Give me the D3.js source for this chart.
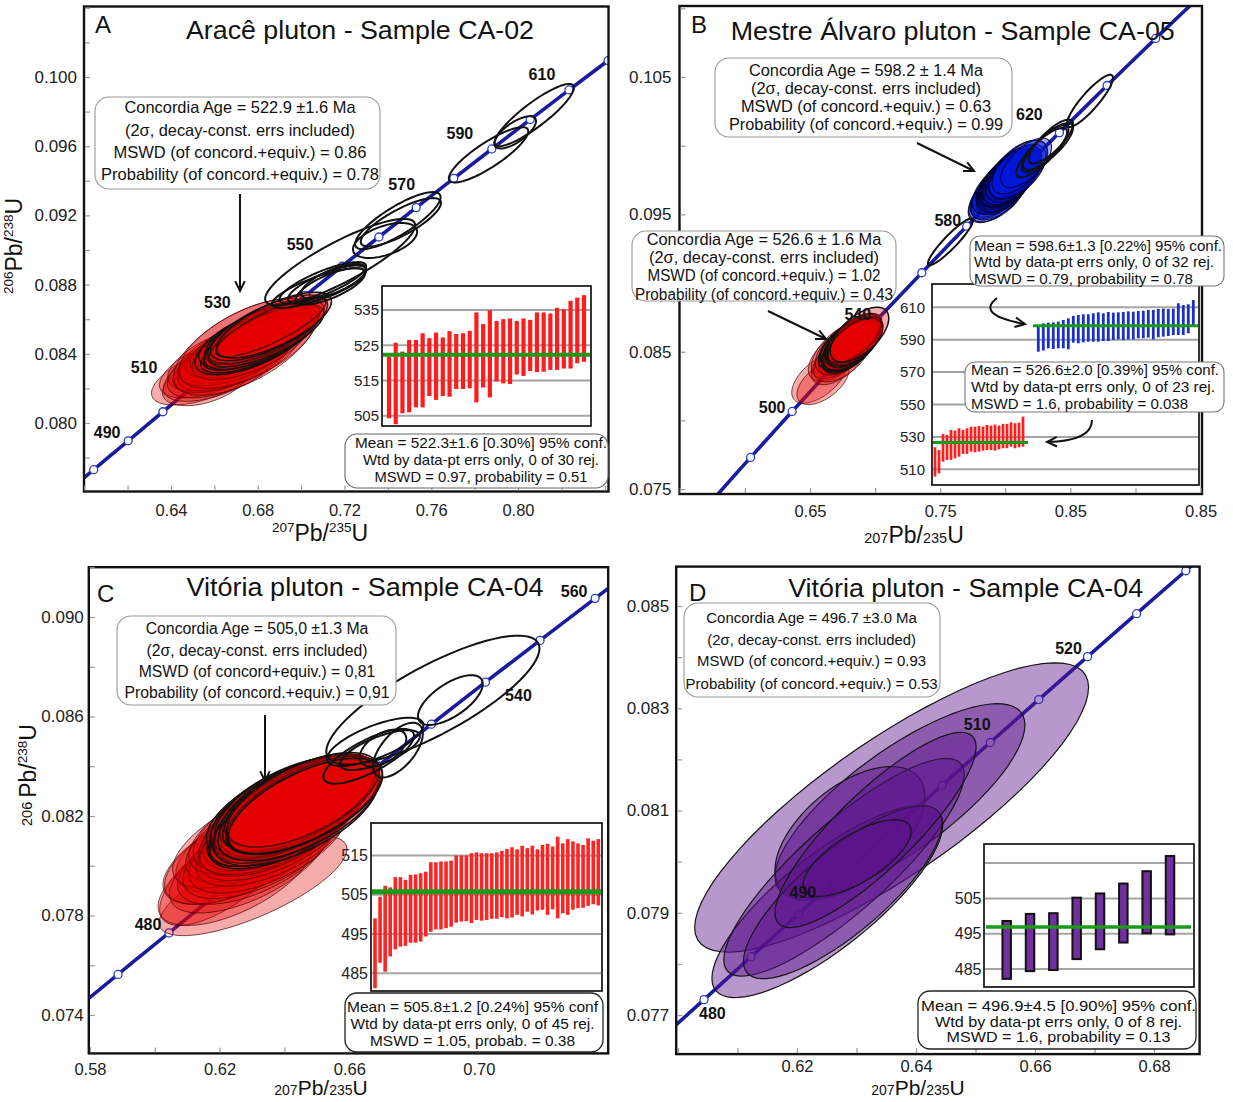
<!DOCTYPE html>
<html><head><meta charset="utf-8">
<script src="https://cdn.jsdelivr.net/npm/d3@7"></script>
<style>body{margin:0;background:#fff}svg{display:block;font-family:"Liberation Sans",Arial,sans-serif}</style>
</head><body><svg id="c" width="1233" height="1102"></svg>
<script>
// ---------------- DATA ----------------
// Concordia curve table (age Ma, 207Pb/235U, 206Pb/238U)
const concAge = [440,450,460,470,475,480,485,490,495,500,505,510,515,520,525,530,540,550,560,570,580,590,600,610,620,630,640,650,660,670,680,690];
const concX = [0.54239,0.55766,0.57307,0.58864,0.59648,0.60437,0.61228,0.62024,0.62824,0.63628,0.64436,0.65247,0.66063,0.66883,0.67707,0.68535,0.70202,0.71887,0.73588,0.75306,0.77041,0.78794,0.80563,0.82350,0.84155,0.85977,0.87818,0.89677,0.91554,0.93450,0.95365,0.97298];
const concY = [0.07064,0.07230,0.07397,0.07563,0.07647,0.07730,0.07814,0.07897,0.07981,0.08065,0.08149,0.08233,0.08317,0.08401,0.08485,0.08569,0.08738,0.08906,0.09075,0.09245,0.09414,0.09584,0.09754,0.09925,0.10095,0.10266,0.10438,0.10609,0.10781,0.10953,0.11125,0.11297];

// Ellipses: [207/235, err, 206/238, err, rho]
const aRed = [
[0.6580,0.0270,0.08284,0.00180,0.62],[0.6560,0.0200,0.08240,0.00140,0.45],[0.6612,0.0265,0.08330,0.00185,0.60],
[0.6640,0.0275,0.08320,0.00195,0.62],[0.6655,0.0270,0.08375,0.00190,0.58],[0.6668,0.0285,0.08350,0.00205,0.60],
[0.6690,0.0260,0.08400,0.00175,0.66],[0.6684,0.0275,0.08365,0.00190,0.62],[0.6700,0.0265,0.08420,0.00180,0.64],
[0.6712,0.0280,0.08380,0.00195,0.62],[0.6720,0.0255,0.08440,0.00170,0.68],[0.6705,0.0270,0.08395,0.00180,0.60],
[0.6735,0.0262,0.08440,0.00178,0.66],[0.6742,0.0330,0.08440,0.00280,0.62],[0.6750,0.0262,0.08460,0.00185,0.64],
[0.6758,0.0320,0.08460,0.00260,0.60],[0.6772,0.0262,0.08480,0.00180,0.66],[0.6765,0.0268,0.08440,0.00188,0.62],
[0.6780,0.0270,0.08470,0.00190,0.64],[0.6795,0.0258,0.08460,0.00170,0.70],[0.6790,0.0262,0.08500,0.00178,0.66],
[0.6805,0.0255,0.08470,0.00165,0.72],[0.6820,0.0265,0.08520,0.00180,0.68],[0.6815,0.0262,0.08490,0.00180,0.66],
[0.6828,0.0260,0.08515,0.00175,0.70],[0.6838,0.0268,0.08530,0.00185,0.68],[0.6840,0.0265,0.08505,0.00180,0.72],
[0.6852,0.0270,0.08550,0.00190,0.70],[0.6860,0.0254,0.08555,0.00173,0.82],[0.6875,0.0265,0.08566,0.00190,0.72]];
const aBlack = [
[0.7100,0.0200,0.0881,0.00120,0.80],[0.7120,0.0180,0.0880,0.00110,0.75],[0.7135,0.0160,0.0879,0.00105,0.72],
[0.7150,0.0150,0.0882,0.00100,0.70],[0.7080,0.0215,0.0878,0.00115,0.80],[0.7180,0.0346,0.0893,0.00250,0.85],
[0.7387,0.0148,0.09055,0.00101,0.50],[0.7446,0.0197,0.0917,0.00165,0.82],[0.7460,0.0185,0.0916,0.00140,0.80],
[0.7864,0.0183,0.0955,0.00160,0.85],[0.7987,0.0096,0.0968,0.00093,0.70],[0.8075,0.0183,0.0978,0.00180,0.88]];

const bRed = [
[0.6575,0.0215,0.08310,0.00185,0.58],[0.6600,0.0200,0.08280,0.00165,0.55],[0.6712,0.0225,0.08480,0.00195,0.58],
[0.6720,0.0210,0.08440,0.00180,0.56],[0.6740,0.0230,0.08510,0.00205,0.58],[0.6748,0.0220,0.08470,0.00190,0.56],
[0.6765,0.0225,0.08530,0.00195,0.58],[0.6772,0.0205,0.08500,0.00170,0.57],[0.6781,0.0215,0.08545,0.00180,0.58],
[0.6798,0.0210,0.08525,0.00180,0.56],[0.6795,0.0215,0.08560,0.00180,0.58],[0.6805,0.0215,0.08535,0.00180,0.56],
[0.6808,0.0205,0.08570,0.00170,0.62],[0.6818,0.0210,0.08545,0.00180,0.58],[0.6815,0.0208,0.08580,0.00175,0.60],
[0.6816,0.0220,0.08550,0.00185,0.56],[0.6820,0.0205,0.08585,0.00170,0.62],[0.6832,0.0208,0.08560,0.00175,0.58],
[0.6835,0.0208,0.08595,0.00175,0.60],[0.6850,0.0210,0.08580,0.00175,0.58],[0.6838,0.0212,0.08600,0.00178,0.62],
[0.6845,0.0210,0.08570,0.00176,0.58],[0.6880,0.0225,0.08624,0.00200,0.60]];
const bBlue = [
[0.7925,0.0210,0.09625,0.00185,0.58],[0.7935,0.0205,0.09650,0.00180,0.56],[0.7950,0.0210,0.09670,0.00190,0.58],
[0.7940,0.0220,0.09640,0.00195,0.55],[0.7960,0.0210,0.09690,0.00185,0.58],[0.7955,0.0220,0.09660,0.00200,0.56],
[0.7970,0.0225,0.09700,0.00200,0.58],[0.7985,0.0210,0.09690,0.00190,0.55],[0.7990,0.0215,0.09730,0.00195,0.58],
[0.7995,0.0212,0.09705,0.00190,0.56],[0.8000,0.0208,0.09740,0.00185,0.60],[0.8005,0.0215,0.09715,0.00195,0.55],
[0.8010,0.0218,0.09750,0.00198,0.58],[0.8008,0.0210,0.09725,0.00190,0.56],[0.8015,0.0216,0.09760,0.00196,0.60],
[0.8018,0.0208,0.09735,0.00188,0.55],[0.8022,0.0206,0.09770,0.00186,0.58],[0.8020,0.0212,0.09745,0.00192,0.56],
[0.8030,0.0212,0.09775,0.00192,0.60],[0.8028,0.0210,0.09750,0.00190,0.55],[0.8040,0.0206,0.09785,0.00186,0.58],
[0.8042,0.0208,0.09760,0.00188,0.56],[0.8050,0.0210,0.09795,0.00190,0.60],[0.8045,0.0220,0.09770,0.00200,0.55],
[0.8060,0.0214,0.09805,0.00194,0.58],[0.8065,0.0212,0.09780,0.00192,0.56],[0.8070,0.0206,0.09815,0.00186,0.60],
[0.8078,0.0202,0.09795,0.00182,0.58],[0.8100,0.0225,0.09830,0.00210,0.58],[0.8095,0.0218,0.09810,0.00200,0.56],
[0.8110,0.0212,0.09845,0.00195,0.60],[0.8160,0.0195,0.09875,0.00180,0.64]];
const bBlack = [
[0.7579,0.0173,0.0930,0.0017,0.92],[0.8328,0.0192,0.09994,0.0017,0.80],[0.8350,0.0170,0.1003,0.0016,0.80],
[0.8305,0.0180,0.0998,0.0017,0.82],[0.8280,0.0195,0.0995,0.0018,0.82],[0.8650,0.0177,0.10326,0.0019,0.88]];

const cRed = [
[0.6303,0.0290,0.07919,0.00200,0.74],[0.6230,0.0215,0.07990,0.00230,0.72],[0.6250,0.0240,0.07960,0.00200,0.62],
[0.6265,0.0240,0.08040,0.00195,0.60],[0.6290,0.0245,0.08010,0.00200,0.62],[0.6300,0.0235,0.08085,0.00190,0.60],
[0.6280,0.0250,0.08050,0.00205,0.62],[0.6310,0.0240,0.08040,0.00195,0.60],[0.6300,0.0245,0.08110,0.00200,0.62],
[0.6325,0.0238,0.08060,0.00192,0.60],[0.6335,0.0240,0.08130,0.00195,0.62],[0.6350,0.0245,0.08090,0.00200,0.60],
[0.6345,0.0240,0.08160,0.00195,0.62],[0.6365,0.0238,0.08110,0.00192,0.60],[0.6360,0.0242,0.08175,0.00198,0.62],
[0.6372,0.0236,0.08130,0.00190,0.60],[0.6385,0.0240,0.08190,0.00195,0.62],[0.6378,0.0238,0.08150,0.00192,0.60],
[0.6392,0.0235,0.08200,0.00190,0.64],[0.6380,0.0245,0.08165,0.00200,0.60],[0.6398,0.0240,0.08210,0.00195,0.62],
[0.6390,0.0240,0.08175,0.00195,0.60],[0.6400,0.0238,0.08190,0.00192,0.64],[0.6395,0.0236,0.08225,0.00190,0.60],
[0.6405,0.0238,0.08180,0.00192,0.62],[0.6408,0.0238,0.08215,0.00192,0.60],[0.6412,0.0242,0.08195,0.00198,0.64],
[0.6415,0.0244,0.08230,0.00200,0.60],[0.6420,0.0236,0.08200,0.00190,0.62],[0.6418,0.0245,0.08240,0.00200,0.60],
[0.6428,0.0232,0.08210,0.00185,0.64],[0.6425,0.0240,0.08245,0.00195,0.60],[0.6432,0.0228,0.08215,0.00180,0.62],
[0.6438,0.0235,0.08250,0.00190,0.60],[0.6430,0.0245,0.08230,0.00200,0.62],[0.6440,0.0232,0.08240,0.00185,0.64],
[0.6435,0.0255,0.08210,0.00210,0.60],[0.6442,0.0242,0.08255,0.00195,0.62],[0.6445,0.0250,0.08225,0.00205,0.60],
[0.6450,0.0240,0.08250,0.00195,0.64],[0.6455,0.0236,0.08235,0.00190,0.62],[0.6448,0.0232,0.08260,0.00185,0.60],
[0.6462,0.0240,0.08245,0.00195,0.64],[0.6458,0.0235,0.08265,0.00190,0.62],[0.6465,0.0238,0.08240,0.00192,0.64]];
const cBlack = [
[0.6680,0.0149,0.08498,0.00097,0.70],[0.6704,0.0072,0.08473,0.00074,0.50],[0.6695,0.0123,0.08465,0.00080,0.70],
[0.6750,0.0077,0.08465,0.00110,0.60],[0.6660,0.0140,0.08440,0.00110,0.75],[0.6858,0.0329,0.08666,0.00259,0.80],
[0.6912,0.0100,0.08666,0.00100,0.65]];

const dPurple = [
[0.6359,0.0331,0.08106,0.00283,0.83],[0.6373,0.0210,0.08119,0.00190,0.78],[0.6289,0.0126,0.08055,0.00131,0.55],
[0.6251,0.0194,0.07922,0.00188,0.80],[0.6279,0.0202,0.07989,0.00213,0.85],[0.6277,0.0167,0.07940,0.00169,0.80],
[0.6332,0.0169,0.08062,0.00191,0.85],[0.6301,0.0091,0.08007,0.00075,0.70]];

// Inset weighted-mean bars: [low, high] age (Ma)
const aBars = [[504.3,521.8],[502.6,525.7],[505.7,523.2],[506.0,526.5],[507.4,526.5],[507.4,528.4],[510.6,527.0],[509.5,528.6],[510.6,527.2],[510.4,529.0],[512.6,528.2],[512.6,528.4],[512.8,529.1],[508.8,534.3],[513.0,531.0],[510.2,534.9],[514.7,531.9],[514.2,532.4],[514.0,532.6],[516.7,531.9],[516.3,532.6],[517.7,532.2],[517.4,534.3],[517.5,534.3],[518.0,534.0],[518.0,535.6],[518.4,535.2],[518.4,537.6],[519.9,538.5],[520.3,539.2]];
const bRedBars = [[505.5,523.6],[507.5,521.9],[514.7,531.8],[515.8,531.2],[515.8,534.3],[516.8,533.9],[517.8,535.3],[519.5,534.3],[519.5,535.3],[520.9,536.3],[520.5,536.3],[520.9,536.7],[521.5,536.3],[521.9,537.4],[521.9,537.0],[521.5,537.6],[522.3,537.0],[523.0,538.0],[523.0,538.0],[524.0,539.0],[523.0,538.4],[523.6,538.8],[524.0,542.5]];
const bBlueBars = [[582.6,598.1],[583.3,600.1],[584.7,600.5],[584.3,600.7],[584.7,601.2],[584.7,602.2],[584.1,603.2],[588.2,604.7],[587.8,605.3],[588.4,605.7],[588.8,605.7],[588.8,606.3],[588.8,606.9],[589.2,606.3],[589.2,607.1],[589.8,606.7],[590.2,606.9],[589.8,607.1],[590.2,607.5],[590.2,607.3],[590.9,607.7],[590.9,607.9],[591.3,608.4],[590.2,608.4],[591.5,609.0],[591.9,609.2],[592.3,609.0],[592.9,609.2],[592.9,612.5],[592.9,611.4],[594.0,611.9],[598.1,614.5]];
const cBars = [[481.2,499.0],[487.7,504.5],[485.4,507.3],[489.3,506.9],[491.1,509.5],[491.8,509.5],[492.0,508.8],[492.8,510.1],[492.8,510.2],[493.1,510.5],[494.4,510.9],[495.6,513.3],[496.2,513.3],[496.2,513.5],[496.5,513.5],[496.9,513.7],[497.9,515.0],[498.2,515.0],[498.3,515.0],[497.8,515.6],[498.6,515.8],[498.4,515.6],[498.6,515.6],[498.9,515.6],[498.9,515.8],[499.3,516.2],[499.0,516.7],[499.2,517.1],[499.9,516.6],[499.5,517.5],[500.7,516.9],[500.0,517.5],[501.0,516.6],[501.2,517.7],[499.9,518.0],[501.3,517.3],[499.0,519.8],[500.3,518.1],[499.9,519.2],[501.2,518.6],[501.6,518.1],[501.7,517.7],[502.2,519.4],[502.6,518.8],[502.3,519.2]];
const dBars = [[482.2,498.6],[484.4,500.6],[484.7,500.8],[487.8,505.2],[490.6,506.4],[492.5,509.2],[495.1,512.7],[494.8,517.0]];
const meanA = 522.3, meanBBlue = 598.6, meanBRed = 526.6, meanC = 505.8, meanD = 496.9;

// Axis ticks
const aYTicks=[0.080,0.084,0.088,0.092,0.096,0.100], aXTicks=[0.64,0.68,0.72,0.76,0.80];
const bYTicks=[0.075,0.085,0.095,0.105], bXTicks=[0.65,0.75,0.85,0.95], bXTickLabels=["0.65","0.75","0.85","0.85"];
const cYTicks=[0.074,0.078,0.082,0.086,0.090], cXTicks=[0.58,0.62,0.66,0.70];
const dYTicks=[0.077,0.079,0.081,0.083,0.085], dXTicks=[0.62,0.64,0.66,0.68];
const aInsetTicks=[505,515,525,535], bInsetTicks=[510,530,550,570,590,610], cInsetTicks=[485,495,505,515], dInsetTicks=[485,495,505], dInsetGrid=[485,495,505,515];

// Text
const aTitle="Aracê pluton - Sample CA-02", bTitle="Mestre Álvaro pluton - Sample CA-05", cTitle="Vitória pluton  - Sample CA-04", dTitle="Vitória pluton - Sample CA-04";
const aConc=["Concordia Age = 522.9 ±1.6 Ma","(2σ, decay-const. errs included)","MSWD (of concord.+equiv.) = 0.86","Probability (of concord.+equiv.) = 0.78"];
const bConcBlue=["Concordia Age = 598.2 ± 1.4 Ma","(2σ, decay-const. errs included)","MSWD (of concord.+equiv.) = 0.63","Probability (of concord.+equiv.) = 0.99"];
const bConcRed=["Concordia Age = 526.6 ± 1.6 Ma","(2σ, decay-const. errs included)","MSWD (of concord.+equiv.) = 1.02","Probability (of concord.+equiv.) = 0.43"];
const cConc=["Concordia Age = 505,0 ±1.3 Ma","(2σ, decay-const. errs included)","MSWD (of concord+equiv.) = 0,81","Probability (of concord.+equiv.) = 0,91"];
const dConc=["Concordia Age = 496.7 ±3.0 Ma","(2σ, decay-const. errs included)","MSWD (of concord.+equiv.) = 0.93","Probability (of concord.+equiv.) = 0.53"];
const aMean=["Mean = 522.3±1.6  [0.30%]  95% conf.","Wtd by data-pt errs only, 0 of 30 rej.","MSWD = 0.97, probability = 0.51"];
const bMeanBlue=["Mean = 598.6±1.3 [0.22%] 95% conf.","Wtd by data-pt errs only, 0 of 32 rej.","MSWD = 0.79, probability = 0.78"];
const bMeanRed=["Mean = 526.6±2.0 [0.39%] 95% conf.","Wtd by data-pt errs only, 0 of 23 rej.","MSWD = 1.6, probability = 0.038"];
const cMean=["Mean = 505.8±1.2 [0.24%] 95% conf","Wtd by data-pt errs only, 0 of 45 rej.","MSWD = 1.05, probab. = 0.38"];
const dMean=["Mean = 496.9±4.5  [0.90%]  95% conf.","Wtd by data-pt errs only, 0 of 8 rej.","MSWD = 1.6, probability = 0.13"];

// ---------------- DRAWING ----------------
const FONT='"Liberation Sans", Arial, sans-serif';
const svg=d3.select("#c");
const defs=svg.append("defs");
svg.append("rect").attr("width",1233).attr("height",1102).attr("fill","#fff");
const conc=concAge.map((a,i)=>({a,x:concX[i],y:concY[i]}));

function ellPath(d,xs,ys){
  const [cx,ex,cy,ey,r]=d, s=Math.sqrt(1-r*r), pts=[];
  for(let i=0;i<72;i++){const t=i/72*2*Math.PI;pts.push([xs(cx+ex*Math.cos(t)),ys(cy+ey*(r*Math.cos(t)+s*Math.sin(t)))]);}
  return d3.line()(pts)+"Z";
}
function T(g,x,y,s,o={}){
  const t=g.append("text").attr("x",x).attr("y",y).text(s).attr("font-size",o.fs||15)
   .attr("text-anchor",o.anchor||"middle").attr("fill",o.fill||"#111").attr("font-family",FONT);
  if(o.w)t.attr("textLength",o.w).attr("lengthAdjust","spacingAndGlyphs");
  if(o.bold)t.attr("font-weight","bold");
  return t;
}
function box(g,r,lines,cys,ws,o){
  g.append("rect").attr("x",r[0]).attr("y",r[1]).attr("width",r[2]-r[0]).attr("height",r[3]-r[1])
   .attr("rx",o.rx||12).attr("fill","#fff").attr("stroke",o.stroke||"#888").attr("stroke-width",o.sw||1.1);
  lines.forEach((l,i)=>T(g,o.left!=null?o.left:o.cx,cys[i]+o.fs*0.36,l,{fs:o.fs,w:ws[i],anchor:o.left!=null?"start":"middle"}));
}
function arrow(g,d,tip,from){
  g.append("path").attr("d",d).attr("fill","none").attr("stroke","#111").attr("stroke-width",2);
  const ang=Math.atan2(tip[1]-from[1],tip[0]-from[0]),L=11,a=0.45;
  const p1=[tip[0]-L*Math.cos(ang-a),tip[1]-L*Math.sin(ang-a)],p2=[tip[0]-L*Math.cos(ang+a),tip[1]-L*Math.sin(ang+a)];
  g.append("path").attr("d",`M${p1}L${tip}L${p2}`).attr("fill","none").attr("stroke","#111").attr("stroke-width",2);
}
function axisLabel(g,x,y,parts,rot){
  const t=g.append("text").attr("x",x).attr("y",y).attr("text-anchor","middle").attr("font-family",FONT).attr("fill","#111");
  if(rot)t.attr("transform",`rotate(-90,${x},${y})`);
  let cur=0;
  parts.forEach(p=>{const dy=p[2]-cur;cur=p[2];t.append("tspan").attr("font-size",p[1]).attr("dy",dy).text(p[0]);});
}
const rng=(a,b,s)=>d3.range(Math.round(a/s),Math.round(b/s)+1).map(k=>+(k*s).toFixed(4));

function drawPanel(P){
  const xs=d3.scaleLinear().domain(P.xDom).range([P.x0,P.x1]);
  const ys=d3.scaleLinear().domain(P.yDom).range([P.y1,P.y0]);
  const g=svg.append("g");
  const cid="clip"+P.id;
  defs.append("clipPath").attr("id",cid).append("rect").attr("x",P.x0).attr("y",P.y0).attr("width",P.x1-P.x0).attr("height",P.y1-P.y0);
  const pg=g.append("g").attr("clip-path",`url(#${cid})`);
  pg.append("path").attr("d",d3.line().x(d=>xs(d.x)).y(d=>ys(d.y)).curve(d3.curveCatmullRom)(conc))
    .attr("fill","none").attr("stroke","#1b1b9e").attr("stroke-width",3.6);
  pg.selectAll("circle").data(conc.filter(d=>P.marks.includes(d.a))).enter().append("circle")
    .attr("cx",d=>xs(d.x)).attr("cy",d=>ys(d.y)).attr("r",4).attr("fill","#fff").attr("stroke","#2a3ad0").attr("stroke-width",1.3);
  const byAge=a=>conc.find(d=>d.a===a);
  const lab=(L)=>{const c=byAge(L[0]);T(g,xs(c.x)+L[1],ys(c.y)+L[2]+5.5,String(L[0]),{fs:16,bold:true});};
  (P.labelsUnder||[]).forEach(lab);
  P.groups.forEach(gr=>{
    pg.append("g").selectAll("path").data(gr.data).enter().append("path").attr("d",d=>ellPath(d,xs,ys))
      .attr("fill",gr.fill).attr("stroke",(d,i)=>i>=(gr.darkFrom??1e9)?"#151010":gr.stroke)
      .attr("stroke-width",(d,i)=>i>=(gr.darkFrom??1e9)?1.5:gr.sw);
  });
  g.append("rect").attr("x",P.x0).attr("y",P.y0).attr("width",P.x1-P.x0).attr("height",P.y1-P.y0)
    .attr("fill","none").attr("stroke","#111").attr("stroke-width",2.4);
  g.append("g").attr("transform",`translate(${P.x0+1},0)`).call(d3.axisRight(ys).tickValues(P.yMinor.filter(v=>v>P.yDom[0]&&v<P.yDom[1])).tickSize(5).tickFormat(""))
    .call(s=>s.select(".domain").remove()).selectAll("line").attr("stroke","#999").attr("stroke-width",1.2);
  g.append("g").attr("transform",`translate(0,${P.y1-1})`).call(d3.axisTop(xs).tickValues(P.xMinor.filter(v=>v>P.xDom[0]&&v<P.xDom[1])).tickSize(5).tickFormat(""))
    .call(s=>s.select(".domain").remove()).selectAll("line").attr("stroke","#999").attr("stroke-width",1.2);
  const yl=g.append("g").attr("transform",`translate(${P.x0},0)`).call(d3.axisLeft(ys).tickValues(P.yTicks).tickSize(0).tickPadding(P.yPad).tickFormat(d3.format(".3f")));
  yl.select(".domain").remove(); yl.attr("font-family",FONT).selectAll("text").attr("font-size",17).attr("fill","#222");
  const xl=g.append("g").attr("transform",`translate(0,${P.y1})`).call(d3.axisBottom(xs).tickValues(P.xTicks).tickSize(0).tickPadding(P.xPad)
     .tickFormat(P.xLabels?((d,i)=>P.xLabels[i]):d3.format(".2f")));
  xl.select(".domain").remove(); xl.attr("font-family",FONT).selectAll("text").attr("font-size",16.5).attr("fill","#222");
  (P.labels||[]).forEach(lab);
  return {g,xs,ys};
}

function inset(I){
  const g=svg.append("g");
  g.append("rect").attr("x",I.x0).attr("y",I.y0).attr("width",I.x1-I.x0).attr("height",I.y1-I.y0).attr("fill","#fff").attr("stroke","#111").attr("stroke-width",1.7);
  const ys=d3.scaleLinear().domain(I.dom).range([I.y1,I.y0]);
  g.append("g").selectAll("line").data(I.grid).enter().append("line").attr("x1",I.x0+1).attr("x2",I.x1-1)
    .attr("y1",d=>ys(d)).attr("y2",d=>ys(d)).attr("stroke","#a4a4a4").attr("stroke-width",2);
  const ax=g.append("g").attr("transform",`translate(${I.x0},0)`).call(d3.axisLeft(ys).tickValues(I.ticks).tickSize(0).tickPadding(I.pad).tickFormat(d3.format("d")));
  ax.select(".domain").remove(); ax.attr("font-family",FONT).selectAll("text").attr("font-size",I.fs).attr("fill","#222");
  I.series.forEach(S=>{
    const xp=d3.scalePoint().domain(d3.range(S.data.length)).range(S.xr);
    g.append("g").selectAll("rect").data(S.data).enter().append("rect")
      .attr("x",(d,i)=>xp(i)-S.w/2).attr("width",S.w).attr("y",d=>ys(d[1])).attr("height",d=>ys(d[0])-ys(d[1]))
      .attr("fill",S.color).attr("stroke",S.stroke||"none").attr("stroke-width",S.sw||0);
    g.append("line").attr("x1",S.mx[0]).attr("x2",S.mx[1]).attr("y1",ys(S.mean)).attr("y2",ys(S.mean)).attr("stroke","#1a9a1a").attr("stroke-width",S.mw||3.5);
  });
  return g;
}

const redFill="rgba(228,0,0,0.33)", redStroke="rgba(70,0,0,0.7)";

// ---------- Panel A ----------
drawPanel({id:"A",x0:84,x1:608.5,y0:6.5,y1:491.5,xDom:[0.59989,0.84173],yDom:[0.07604,0.104075],
  marks:rng(470,620,10),yTicks:aYTicks,xTicks:aXTicks,yPad:7,xPad:13,yMinor:rng(0.076,0.104,0.002),xMinor:rng(0.60,0.84,0.02),
  groups:[{data:aRed,fill:redFill,stroke:redStroke,sw:1,darkFrom:18},{data:aBlack,fill:"none",stroke:"#111",sw:2}],
  labels:[[490,-21,-8],[510,-54,-15],[530,-52,-22],[550,-42,-22],[570,-14.5,-23],[590,-32,-15],[610,-27,-15.5]]});
box(svg,[95,97,380,189],aConc,[107.5,130,152,174],[231,230,253,278],{cx:240,fs:16.5,rx:14,stroke:"#999"});
arrow(svg,"M240,194L240,291",[240,291],[240,194]);
inset({x0:382,x1:591,y0:286,y1:426,dom:[502.1,541.8],grid:aInsetTicks,ticks:aInsetTicks,pad:3,fs:15,
  series:[{data:aBars,xr:[389,584],w:4.2,color:"#ff1c1c",mean:meanA,mx:[383,590],mw:4}]});
box(svg,[345,434,608,488],aMean,[443,460,477],[252,236,213],{cx:481,fs:15,rx:12,stroke:"#666"});
axisLabel(svg,22,246,[["206",13.5,-9],["Pb/",23,0],["238",13.5,-9],["U",23,0]],true);
axisLabel(svg,320,541,[["207",13.5,-9],["Pb/",23,0],["235",13.5,-9],["U",23,0]],false);
T(svg,360,38.5,aTitle,{fs:26,w:348});
T(svg,95,33,"A",{fs:24,anchor:"start"});

// ---------- Panel B ----------
drawPanel({id:"B",x0:679.5,x1:1202,y0:6,y1:494,xDom:[0.54977,0.95108],yDom:[0.07464,0.11017],
  marks:rng(480,660,20),yTicks:bYTicks,xTicks:bXTicks,xLabels:bXTickLabels,yPad:8,xPad:11,yMinor:rng(0.075,0.110,0.005),xMinor:rng(0.55,0.95,0.05),
  groups:[{data:bRed,fill:redFill,stroke:redStroke,sw:1,darkFrom:8},{data:bBlue,fill:"rgba(0,22,215,0.36)",stroke:"rgba(0,0,40,0.85)",sw:1.1},{data:bBlack,fill:"none",stroke:"#111",sw:2}],
  labels:[[500,-20,-3.5],[540,-20,-5],[580,-19,-6],[620,-30,-18.6]]});
box(svg,[715,58,1012,137],bConcBlue,[70.4,88.5,106.6,124.4],[234,230,250,274],{cx:866,fs:16,rx:14,stroke:"#999"});
arrow(svg,"M917,143L974,171",[974,171],[917,143]);
box(svg,[632,231,896,301],bConcRed,[239.3,257.5,275.5,294],[234.5,230,233,258],{cx:764,fs:16,rx:14,stroke:"#999"});
arrow(svg,"M768,311L826,339",[826,339],[768,311]);
inset({x0:932,x1:1199,y0:284,y1:485,dom:[500.3,624.4],grid:bInsetTicks,ticks:bInsetTicks,pad:7,fs:15,
  series:[{data:bRedBars,xr:[935,1023],w:2.7,color:"#ff1c1c",mean:meanBRed,mx:[933,1028],mw:3},
          {data:bBlueBars,xr:[1038.3,1193.3],w:2.8,color:"#1b30c8",mean:meanBBlue,mx:[1033,1198],mw:3}]});
box(svg,[970,236,1224,286],bMeanBlue,[245.3,261.6,278.3],[248,240,219],{left:974,fs:15,rx:10,stroke:"#777"});
box(svg,[965,362,1224,412],bMeanRed,[369.6,387,403.7],[248,244,217],{left:971,fs:15,rx:10,stroke:"#777"});
arrow(svg,"M997,298Q975,315 1025,324",[1025,324],[990,318]);
arrow(svg,"M1092,420Q1092,441 1047,442",[1047,442],[1085,441]);
axisLabel(svg,914,543,[["207",14.5,0],["Pb/",23,0],["235",14.5,0],["U",23,0]],false);
T(svg,952.75,39.5,bTitle,{fs:26,w:444});
T(svg,691,33,"B",{fs:24,anchor:"start"});

// ---------- Panel C ----------
drawPanel({id:"C",x0:88.8,x1:608.2,y0:567.2,y1:1053.4,xDom:[0.57963,0.7399],yDom:[0.072456,0.092002],
  marks:rng(470,570,10),yTicks:cYTicks,xTicks:cXTicks,yPad:5,xPad:10,yMinor:rng(0.074,0.092,0.002),xMinor:rng(0.58,0.74,0.02),
  groups:[{data:cRed,fill:redFill,stroke:redStroke,sw:1,darkFrom:22},{data:cBlack,fill:"none",stroke:"#111",sw:2}],
  labels:[[480,-21,-8],[540,33,13],[560,-21,-7]]});
box(svg,[117,616,396,705],cConc,[628,649.8,671,692],[222.7,220.8,236.5,265],{cx:257,fs:16,rx:14,stroke:"#999"});
arrow(svg,"M265,715L265,781",[265,781],[265,715]);
inset({x0:371,x1:602,y0:823,y1:991,dom:[480.5,523.3],grid:cInsetTicks,ticks:cInsetTicks,pad:3,fs:16,
  series:[{data:cBars,xr:[375,598.3],w:3.6,color:"#ff2424",mean:meanC,mx:[372,601],mw:5}]});
box(svg,[345,993,603,1052],cMean,[1006.3,1023.7,1040.4],[251,244,205],{cx:472.5,fs:15,rx:12,stroke:"#222",sw:1.3});
axisLabel(svg,36,775,[["206 ",14.5,-4],["Pb/",23,0],["238",13.5,-9],["U",23,0]],true);
axisLabel(svg,321,1095,[["207",14,0],["Pb/",21,0],["235",14,0],["U",21,0]],false);
T(svg,365,595.5,cTitle,{fs:26,w:357});
T(svg,97,602,"C",{fs:24,anchor:"start"});

// ---------- Panel D ----------
drawPanel({id:"D",x0:676.2,x1:1199.6,y0:566.6,y1:1054.1,xDom:[0.5997,0.68766],yDom:[0.076235,0.085771],
  marks:rng(475,530,5),yTicks:dYTicks,xTicks:dXTicks,yPad:7,xPad:6,yMinor:rng(0.077,0.085,0.001),xMinor:rng(0.60,0.68,0.01),
  groups:[{data:dPurple,fill:"rgba(92,18,138,0.44)",stroke:"#151515",sw:1.2}],
  labelsUnder:[[490,4.5,-22]],
  labels:[[480,8.4,13.6],[510,-13,-18],[520,-19,-8]]});
box(svg,[684,603,940,697],dConc,[617.2,639.2,660.8,683.5],[210.6,208.6,229,252],{cx:811.6,fs:15.5,rx:14,stroke:"#999"});
inset({x0:984,x1:1194,y0:844,y1:987,dom:[479.9,520.4],grid:dInsetGrid,ticks:dInsetTicks,pad:2.5,fs:16,
  series:[{data:dBars,xr:[1006.7,1170],w:8.5,color:"#7030a0",stroke:"#111",sw:2,mean:meanD,mx:[986,1191],mw:3.5}]});
box(svg,[918,991,1196,1049],dMean,[1005.6,1021.3,1037],[275,247,224],{cx:1058.5,fs:15,rx:12,stroke:"#222",sw:1.3});
axisLabel(svg,918,1095,[["207",14,0],["Pb/",21,0],["235",14,0],["U",21,0]],false);
T(svg,965.7,597,dTitle,{fs:26,w:355});
T(svg,689,601,"D",{fs:24,anchor:"start"});
</script></body></html>
